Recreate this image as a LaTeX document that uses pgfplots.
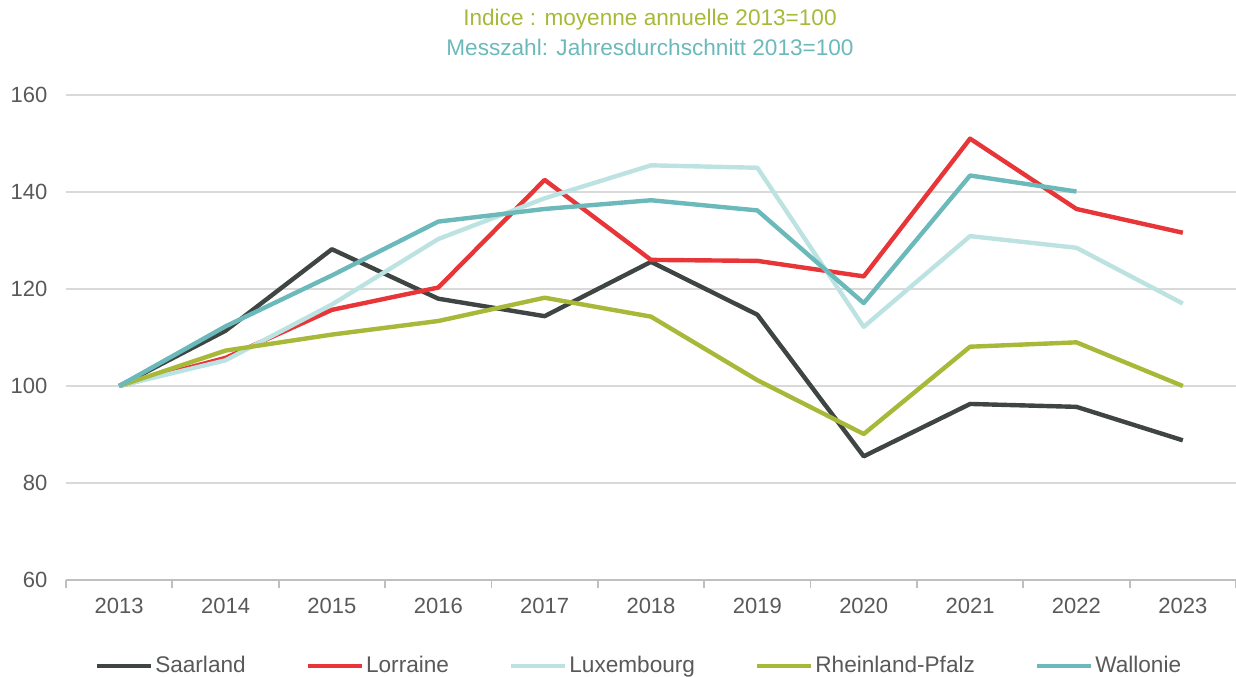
\documentclass[border=0pt]{standalone}
\usepackage{pgfplots}
\pgfplotsset{compat=1.18}
\usepackage{fontspec}
\setmainfont{Liberation Sans}
\definecolor{saar}{HTML}{3E4543}
\definecolor{lorr}{HTML}{E83538}
\definecolor{luxe}{HTML}{BCE3E2}
\definecolor{rlp}{HTML}{A8B939}
\definecolor{wall}{HTML}{6BB9BB}
\definecolor{ticktext}{HTML}{595959}
\definecolor{gridgrey}{HTML}{D9D9D9}
\definecolor{axisgrey}{HTML}{BFBFBF}

\begin{document}
\begin{tikzpicture}
\begin{axis}[
  scale only axis,
  width=585bp,
  height=242.5bp,
  xmin=-0.5, xmax=10.5,
  ymin=60, ymax=160,
  xtick={0,1,2,3,4,5,6,7,8,9,10},
  xticklabels={2013,2014,2015,2016,2017,2018,2019,2020,2021,2022,2023},
  minor xtick={-0.5,0.5,...,10.5},
  ytick={60,80,100,120,140,160},
  axis x line*=bottom,
  axis y line*=left,
  x axis line style={draw=axisgrey, line width=0.9bp, -},
  y axis line style={draw=none},
  tick align=outside,
  major tick length=0pt,
  minor tick length=4bp,
  minor x tick style={draw=axisgrey, line width=0.9bp},
  ymajorgrids,
  grid style={draw=gridgrey, line width=0.9bp},
  ticklabel style={font=\fontsize{11bp}{13bp}\selectfont, text=ticktext},
  /pgf/number format/assume math mode=true,
  yticklabel style={xshift=-5.8bp},
  xticklabel style={yshift=-5.3bp},
  legend columns=5,
  legend cell align=left,
  legend style={
    at={(0.4906,-0.1773)}, anchor=center,
    draw=none, fill=none,
    font=\fontsize{11.3bp}{13bp}\selectfont, text=ticktext,
    /tikz/every odd column/.append style={column sep=-1bp},
    /tikz/every even column/.append style={column sep=28bp},
  },
  legend image code/.code={\draw[#1, line width=2.2bp] (0bp,0bp) -- (27bp,0bp);},
  every axis plot/.append style={line width=2.2bp, line join=round},
]
\addplot[saar] coordinates {(0,100) (1,111.4) (2,128.2) (3,118.0) (4,114.4) (5,125.6) (6,114.7) (7,85.5) (8,96.3) (9,95.7) (10,88.8)};
\addlegendentry{Saarland}
\addplot[lorr] coordinates {(0,100) (1,105.8) (2,115.7) (3,120.3) (4,142.5) (5,126.0) (6,125.8) (7,122.6) (8,151.0) (9,136.5) (10,131.6)};
\addlegendentry{Lorraine}
\addplot[luxe] coordinates {(0,100) (1,105.3) (2,116.8) (3,130.3) (4,138.7) (5,145.5) (6,145.0) (7,112.2) (8,130.9) (9,128.5) (10,117.0)};
\addlegendentry{Luxembourg}
\addplot[rlp] coordinates {(0,100) (1,107.3) (2,110.6) (3,113.4) (4,118.2) (5,114.3) (6,101.2) (7,90.1) (8,108.1) (9,109.0) (10,100.0)};
\addlegendentry{Rheinland-Pfalz}
\addplot[wall] coordinates {(0,100) (1,112.3) (2,122.8) (3,133.9) (4,136.5) (5,138.3) (6,136.2) (7,117.1) (8,143.4) (9,140.1)};
\addlegendentry{Wallonie}
\end{axis}
\node[text=rlp, font=\fontsize{11.3bp}{13bp}\selectfont] at (292bp,280bp) {Indice : moyenne annuelle 2013=100};
\node[text=wall, font=\fontsize{11.3bp}{13bp}\selectfont] at (292bp,266.5bp) {Messzahl: Jahresdurchschnitt 2013=100};
\pgfresetboundingbox
\path[use as bounding box] (-33bp,-48.5bp) rectangle (585bp,290bp);
\end{tikzpicture}
\end{document}
